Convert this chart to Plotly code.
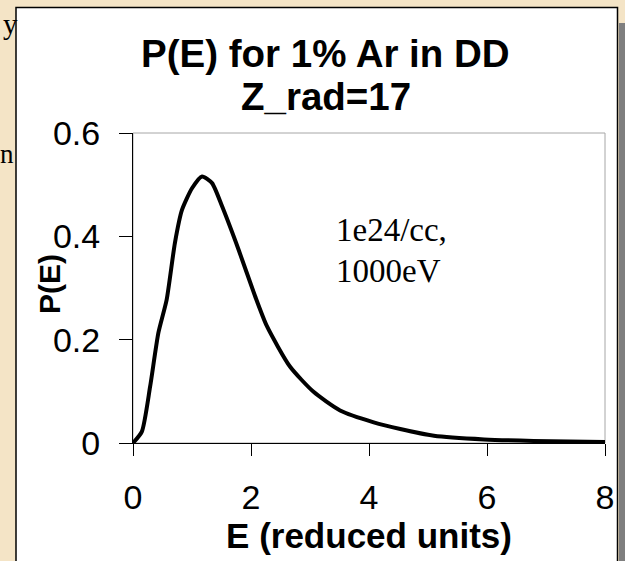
import plotly.graph_objects as go

# ---- data ----
E = [0.0, 0.15, 0.29, 0.43, 0.57, 0.71, 0.83, 1.0, 1.17, 1.34, 1.51, 1.79,
     2.07, 2.27, 2.66, 3.06, 3.51, 4.08, 4.53, 5.10, 5.95, 6.79, 8.0]
P = [0.0, 0.022, 0.109, 0.213, 0.277, 0.387, 0.451, 0.493, 0.516, 0.503, 0.458, 0.374,
     0.284, 0.226, 0.148, 0.099, 0.063, 0.040, 0.027, 0.014, 0.007, 0.004, 0.002]
x_ticks = [0, 2, 4, 6, 8]
y_ticks = [0, 0.2, 0.4, 0.6]
y_ticktext = ["0", "0.2", "0.4", "0.6"]
title_lines = ["P(E) for 1% Ar in DD", "Z_rad=17"]
note_lines = ["1e24/cc,", "1000eV"]
x_title = "E (reduced units)"
y_title = "P(E)"

W, H = 625, 561
L, R, T, B = 133, 605, 133, 443  # plot area in pixels


def px(xpix):
    return (xpix - L) / (R - L)


def py(ypix):
    return (B - ypix) / (B - T)


SANS = "Liberation Sans, Arial, sans-serif"
SERIF = "Liberation Serif, Times New Roman, serif"

fig = go.Figure()
fig.add_trace(go.Scatter(
    x=E, y=P, mode="lines",
    line=dict(color="black", width=4, shape="spline", smoothing=0.6),
    showlegend=False, hoverinfo="skip"))

shapes = [
    # shadow of the chart box
    dict(type="rect", xref="paper", yref="paper", x0=px(619), x1=px(640),
         y0=py(600), y1=py(23), fillcolor="#7f7f7f", line=dict(width=0), layer="below"),
    # white chart box
    dict(type="rect", xref="paper", yref="paper", x0=px(16), x1=px(617.5),
         y0=py(600), y1=py(7.5), fillcolor="white",
         line=dict(color="black", width=1.5), layer="below"),
    # plot-area border (gray)
    dict(type="rect", xref="x domain", yref="y domain", x0=0, x1=1, y0=0, y1=1,
         line=dict(color="#a6a6a6", width=1), layer="below"),
]

annotations = [
    dict(text="<b>%s</b>" % title_lines[0], x=px(325), y=py(54), xref="paper", yref="paper",
         showarrow=False, font=dict(family=SANS, size=38.5, color="black"),
         xanchor="center", yanchor="middle"),
    dict(text="<b>%s</b>" % title_lines[1], x=px(326), y=py(97), xref="paper", yref="paper",
         showarrow=False, font=dict(family=SANS, size=38.5, color="black"),
         xanchor="center", yanchor="middle"),
    dict(text=note_lines[0], x=px(334), y=py(230), xref="paper", yref="paper",
         showarrow=False, font=dict(family=SERIF, size=33, color="black"),
         xanchor="left", yanchor="middle"),
    dict(text=note_lines[1], x=px(334), y=py(271), xref="paper", yref="paper",
         showarrow=False, font=dict(family=SERIF, size=33, color="black"),
         xanchor="left", yanchor="middle"),
    # y axis title, overlapping the tick-label column as in the reference
    dict(text="<b>%s</b>" % y_title, x=px(49), y=py(284), xref="paper", yref="paper",
         showarrow=False, textangle=-90, font=dict(family=SANS, size=30, color="black"),
         xanchor="center", yanchor="middle"),
    # fragments of slide text peeking out on the left
    dict(text="y", x=px(20), y=py(24), xref="paper", yref="paper",
         showarrow=False, font=dict(family=SERIF, size=29, color="black"),
         xanchor="right", yanchor="middle"),
    dict(text="n", x=px(16), y=py(154), xref="paper", yref="paper",
         showarrow=False, font=dict(family=SERIF, size=27, color="black"),
         xanchor="right", yanchor="middle"),
]

fig.update_layout(
    width=W, height=H,
    margin=dict(l=L, r=W - R, t=T, b=H - B, pad=0),
    paper_bgcolor="#f4e4c6",
    plot_bgcolor="rgba(0,0,0,0)",
    shapes=shapes,
    annotations=annotations,
    showlegend=False,
    font=dict(family=SANS, color="black"),
)

fig.update_xaxes(
    range=[0, 8], tickmode="array", tickvals=x_ticks,
    ticks="outside", ticklen=12, tickwidth=1, tickcolor="black",
    showline=True, linecolor="black", linewidth=1,
    showgrid=False, zeroline=False,
    tickfont=dict(family=SANS, size=34, color="black"),
    ticklabelstandoff=12,
    title=dict(text="<b>%s</b>" % x_title, font=dict(family=SANS, size=35, color="black"),
               standoff=0),
)
fig.update_yaxes(
    range=[0, 0.6], tickmode="array", tickvals=y_ticks, ticktext=y_ticktext,
    ticks="outside", ticklen=13, tickwidth=1, tickcolor="black",
    showline=True, linecolor="black", linewidth=1,
    showgrid=False, zeroline=False,
    tickfont=dict(family=SANS, size=34, color="black"),
    ticklabelstandoff=12,
)

fig.write_html("out.html")
